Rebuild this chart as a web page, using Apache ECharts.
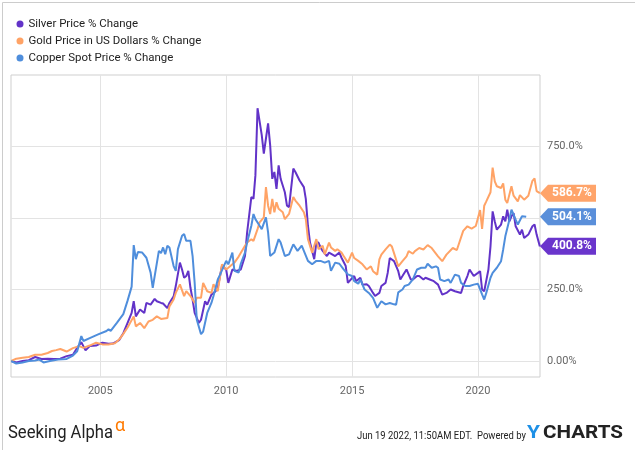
<!DOCTYPE html>
<html>
<head>
<meta charset="utf-8">
<script src="https://cdn.jsdelivr.net/npm/echarts@6/dist/echarts.min.js"></script>
<style>
html,body{margin:0;padding:0;background:#fff;}
#chart{width:635px;height:450px;}
</style>
</head>
<body>
<div id="chart"></div>
<script>
// ---- data (percent change since June 2001) ----
const seriesNames = ['Silver Price % Change', 'Gold Price in US Dollars % Change', 'Copper Spot Price % Change'];
const xStart = '2001-06-16';
const xEnd = '2022-06-19';
const yearTicks = ['2005-01-01', '2010-01-01', '2015-01-01', '2020-01-01'];
const yTicks = [0, 250, 500, 750];
const endValues = [400.8, 586.7, 504.1];

const silver = [
['2001-06-19',0],['2001-09',-5],['2001-12',0],['2002-03',3],['2002-06',14],['2002-09',7],['2002-12',8],
['2003-03',7],['2003-06',8],['2003-09',17],['2003-12',22],['2004-02',46],['2004-04',66],['2004-06',37],
['2004-08',52],['2004-11',54],['2005-02',64],['2005-05',60],['2005-07',61],['2005-10',73],['2005-12',97],
['2006-02',133],['2006-04',168],['2006-05',209],['2006-06',156],['2006-08',180],['2006-10',168],['2006-11',203],
['2007-01',197],['2007-03',217],['2007-04',209],['2007-06',203],['2007-07',201],['2007-09',185],['2007-10',203],
['2007-12',226],['2008-01',262],['2008-03',344],['2008-04',320],['2008-05',291],['2008-06',297],['2008-07',315],
['2008-08',256],['2008-09',215],['2008-10',168],['2008-12',133],['2009-01',144],['2009-03',209],['2009-04',197],
['2009-06',232],['2009-08',244],['2009-09',256],['2009-11',332],['2010-01',320],['2010-02',273],['2010-04',320],
['2010-06',315],['2010-08',320],['2010-10',367],['2010-11',450],['2011-01',573],['2011-02',567],['2011-03',649],
['2011-04',884],['2011-06',790],['2011-07',725],['2011-08',778],['2011-09',831],['2011-10',755],['2011-11',637],
['2011-12',661],['2012-01',602],['2012-02',684],['2012-03',637],['2012-05',590],['2012-06',543],['2012-07',538],
['2012-09',673],['2012-10',661],['2012-12',631],['2013-02',608],['2013-03',567],['2013-04',473],['2013-05',414],
['2013-07',356],['2013-08',414],['2013-09',414],['2013-10',397],['2013-11',385],['2014-01',367],['2014-02',379],
['2014-03',385],['2014-05',367],['2014-07',379],['2014-08',361],['2014-10',332],['2014-11',273],['2015-01',290],
['2015-02',297],['2015-03',279],['2015-05',291],['2015-06',267],['2015-08',268],['2015-09',262],['2015-11',238],
['2015-12',227],['2016-02',238],['2016-03',262],['2016-05',273],['2016-06',308],['2016-07',360],['2016-09',349],
['2016-11',314],['2016-12',285],['2017-01',297],['2017-03',320],['2017-05',285],['2017-06',285],['2017-08',297],
['2017-09',297],['2017-11',285],['2017-12',291],['2018-02',285],['2018-04',279],['2018-06',267],['2018-08',232],
['2018-10',238],['2018-12',250],['2019-02',244],['2019-03',250],['2019-05',238],['2019-06',262],['2019-08',297],
['2019-09',320],['2019-11',297],['2020-01',308],['2020-02',314],['2020-03',250],['2020-04',244],['2020-06',320],
['2020-07',401],['2020-08',523],['2020-09',488],['2020-10',459],['2020-12',477],['2021-01',506],['2021-02',488],
['2021-03',529],['2021-04',488],['2021-05',506],['2021-06',517],['2021-07',471],['2021-09',442],['2021-10',459],
['2021-11',430],['2022-01',442],['2022-03',471],['2022-04',477],['2022-05',442],['2022-06-17',400.8]
];

const gold = [
['2001-06-19',0],['2001-09',8],['2001-12',11],['2002-03',14],['2002-06',22],['2002-09',22],['2002-12',28],
['2003-02',35],['2003-04',38],['2003-06',42],['2003-09',33],['2003-12',45],['2004-03',52],['2004-05',46],
['2004-08',54],['2004-11',64],['2005-02',58],['2005-05',58],['2005-08',62],['2005-10',75],['2005-12',95],
['2006-02',117],['2006-03',121],['2006-05',156],['2006-06',121],['2006-08',133],['2006-10',115],['2006-12',138],
['2007-02',144],['2007-04',156],['2007-06',147],['2007-09',150],['2007-10',191],['2007-12',215],['2008-01',238],
['2008-03',268],['2008-05',227],['2008-06',244],['2008-08',227],['2008-10',203],['2008-11',221],['2009-01',221],
['2009-02',273],['2009-04',244],['2009-06',238],['2009-07',268],['2009-09',244],['2009-11',338],['2010-01',320],
['2010-02',326],['2010-05',344],['2010-07',365],['2010-09',391],['2010-10',403],['2010-11',414],['2011-01',426],
['2011-02',420],['2011-04',461],['2011-05',485],['2011-07',502],['2011-08',608],['2011-09',543],['2011-10',514],
['2011-11',567],['2011-12',520],['2012-01',555],['2012-02',532],['2012-04',520],['2012-05',496],['2012-07',514],
['2012-09',573],['2012-10',561],['2012-12',543],['2013-02',520],['2013-03',496],['2013-04',426],['2013-06',379],
['2013-07',403],['2013-08',426],['2013-09',391],['2013-11',403],['2013-12',373],['2014-02',414],['2014-03',397],
['2014-05',385],['2014-06',391],['2014-08',379],['2014-09',367],['2014-11',344],['2015-01',379],['2015-02',360],
['2015-04',350],['2015-06',338],['2015-08',320],['2015-10',331],['2015-11',314],['2016-01',302],['2016-02',355],
['2016-03',372],['2016-05',390],['2016-07',407],['2016-08',400],['2016-11',331],['2017-01',349],['2017-03',366],
['2017-04',384],['2017-06',375],['2017-07',384],['2017-09',395],['2017-11',390],['2018-01',405],['2018-03',395],
['2018-06',366],['2018-08',349],['2018-10',372],['2019-01',395],['2019-03',388],['2019-06',455],['2019-08',471],
['2019-10',463],['2019-12',472],['2020-02',528],['2020-03',462],['2020-04',543],['2020-05',558],['2020-07',590],
['2020-08',676],['2020-09',628],['2020-10',611],['2020-12',605],['2021-01',621],['2021-02',564],['2021-03',552],
['2021-05',611],['2021-06',578],['2021-08',558],['2021-09',580],['2021-11',564],['2022-01',578],['2022-03',630],
['2022-04',638],['2022-05',594],['2022-06-17',586.7]
];

const copper = [
['2001-06-19',0],['2001-09',-9],['2001-12',-5],['2002-03',0],['2002-06',2],['2002-08',5],['2002-10',-5],
['2003-01',0],['2003-05',5],['2003-09',7],['2003-12',19],['2004-02',34],['2004-04',87],['2004-05',70],
['2004-08',80],['2004-12',93],['2005-04',105],['2005-05',111],['2005-06',105],['2005-09',134],['2005-12',164],
['2006-02',211],['2006-04',260],['2006-05',405],['2006-06',356],['2006-07',381],['2006-09',379],['2006-11',361],
['2007-01',309],['2007-02',256],['2007-03',262],['2007-05',385],['2007-06',377],['2007-07',397],['2007-08',373],
['2007-09',403],['2007-10',397],['2007-12',332],['2008-01',315],['2008-02',391],['2008-04',438],['2008-05',444],
['2008-06',420],['2008-08',420],['2008-09',367],['2008-10',273],['2008-11',144],['2009-01',94],['2009-02',103],
['2009-04',168],['2009-06',203],['2009-07',227],['2009-09',285],['2009-10',300],['2010-01',350],['2010-02',338],
['2010-04',379],['2010-05',315],['2010-07',309],['2010-08',340],['2010-10',379],['2010-11',414],['2011-01',473],
['2011-02',514],['2011-03',496],['2011-05',473],['2011-06',461],['2011-08',502],['2011-09',450],['2011-10',367],
['2011-12',379],['2012-02',426],['2012-03',414],['2012-05',367],['2012-07',373],['2012-09',408],['2012-11',385],
['2013-01',403],['2013-02',385],['2013-04',350],['2013-06',338],['2013-08',350],['2013-10',350],['2013-12',344],
['2014-02',350],['2014-03',315],['2014-05',344],['2014-07',340],['2014-09',320],['2014-11',303],['2015-01',297],
['2015-02',279],['2015-04',270],['2015-05',285],['2015-07',250],['2015-09',238],['2015-11',221],['2016-01',186],
['2016-03',209],['2016-05',198],['2016-07',203],['2016-09',198],['2016-10',197],['2016-11',240],['2017-01',250],
['2017-02',262],['2017-04',267],['2017-06',285],['2017-08',320],['2017-10',326],['2017-12',326],['2018-01',340],
['2018-03',326],['2018-05',331],['2018-06',326],['2018-07',285],['2018-09',279],['2018-11',285],['2018-12',273],
['2019-02',302],['2019-04',297],['2019-05',273],['2019-07',262],['2019-09',262],['2019-11',267],['2020-01',270],
['2020-03',233],['2020-04',215],['2020-05',238],['2020-07',291],['2020-08',308],['2020-10',326],['2020-12',349],
['2021-01',390],['2021-02',436],['2021-04',494],['2021-05',529],['2021-07',494],['2021-08',477],['2021-10',506],
['2021-12',504.1]
];

const colors = ['#6233C8', '#FFA366', '#4F8EDC'];
const tagColors = ['#6A35CC', '#FFA46A', '#5A8FDA'];

// ---- helpers ----
const FONT = 'Roboto, "Noto Sans", sans-serif';
const ts = s => echarts.number.parseDate(s).getTime();
const mctx = document.createElement('canvas').getContext('2d');
function textWidth(text, size, weight) {
  mctx.font = (weight || 'normal') + ' ' + size + 'px ' + FONT;
  return mctx.measureText(text).width;
}
function fitScale(text, size, weight, target) { return target / textWidth(text, size, weight); }

// legend font size chosen so the longest entry spans ~173px as in the reference
const legendFont = 13 * 173 / textWidth(seriesNames[1], 13);

// ---- chart ----
const chart = echarts.init(document.getElementById('chart'), null, {renderer: 'canvas'});

function tagMark(i) {
  return {
    symbol: 'path://M0,8.5 L8,0 L56,0 L56,17 L8,17 Z',
    symbolSize: [56, 17],
    symbolOffset: [28, 0],
    silent: true,
    itemStyle: {color: tagColors[i]},
    label: {
      show: true, position: 'inside', offset: [4, 0],
      color: '#fff', fontSize: 12, fontWeight: 'bold', fontFamily: FONT,
      formatter: p => p.value.toFixed(1) + '%'
    },
    data: [{coord: [ts(xEnd), endValues[i]], value: endValues[i]}]
  };
}

const dataSets = [silver, gold, copper];
const series = dataSets.map((d, i) => ({
  name: seriesNames[i],
  type: 'line',
  data: d.map(p => [ts(p[0]), p[1]]),
  showSymbol: false,
  symbol: 'none',
  lineStyle: {width: 2, color: colors[i]},
  itemStyle: {color: colors[i]},
  z: 2 + i,
  markPoint: tagMark(i)
}));

const dateText = 'Jun 19 2022, 11:50AM EDT.  Powered by';

chart.setOption({
  animation: false,
  backgroundColor: '#fff',
  color: colors,
  grid: {left: 11, right: 95, top: 75, bottom: 73, show: true, borderColor: '#cfcfcf', borderWidth: 1, containLabel: false},
  legend: {
    orient: 'vertical', left: 16.5, top: 17.5, padding: 0, itemWidth: 7, itemHeight: 7, itemGap: 4,
    icon: 'circle', data: seriesNames, selectedMode: false,
    textStyle: {fontSize: legendFont, color: '#222', fontFamily: FONT, lineHeight: 13}
  },
  xAxis: {
    type: 'value',
    min: ts(xStart), max: ts(xEnd),
    axisLine: {show: false},
    axisTick: {show: false, customValues: yearTicks.map(ts)},
    axisLabel: {
      customValues: yearTicks.map(ts), color: '#666', fontSize: 11, fontFamily: FONT, margin: 9,
      formatter: v => String(new Date(v).getFullYear())
    },
    splitLine: {show: true, lineStyle: {color: '#e3e3e3', width: 1}}
  },
  yAxis: {
    type: 'value', position: 'right', min: -56, max: 1000,
    axisLine: {show: false},
    axisTick: {show: false, customValues: yTicks},
    axisLabel: {
      customValues: yTicks, color: '#666', fontSize: 11, fontFamily: FONT, margin: 7,
      formatter: v => v === 0 ? '0.00%' : v.toFixed(1) + '%'
    },
    splitLine: {show: true, lineStyle: {color: '#e3e3e3', width: 1}}
  },
  series: series,
  graphic: [
    {type: 'rect', left: 0, top: 0, z: 100, silent: true,
     shape: {x: 0.5, y: 0.5, width: 634, height: 449}, style: {fill: 'none', stroke: '#cccccc', lineWidth: 1}},
    {type: 'text', x: 8, y: 424, z: 100, silent: true,
     scaleX: fitScale('Seeking Alpha', 18, 'normal', 105),
     style: {text: 'Seeking Alpha', fontSize: 18, fontFamily: FONT, fill: '#222'}},
    {type: 'text', x: 115, y: 417, z: 100, silent: true,
     style: {text: 'α', fontSize: 18, fontFamily: FONT, fill: '#ff7a00'}},
    {type: 'text', x: 357, y: 431, z: 100, silent: true,
     scaleX: fitScale(dateText, 10.5, 'normal', 169),
     style: {text: dateText, fontSize: 10.5, fontFamily: FONT, fill: '#222'}},
    {type: 'text', x: 527, y: 424, z: 100, silent: true,
     scaleX: fitScale('Y', 18, 'bold', 13),
     style: {text: 'Y', fontSize: 18, fontWeight: 'bold', fontFamily: FONT, fill: '#1E90E6'}},
    {type: 'text', x: 543, y: 424, z: 100, silent: true,
     scaleX: fitScale('CHARTS', 18, 'bold', 80),
     style: {text: 'CHARTS', fontSize: 18, fontWeight: 'bold', fontFamily: FONT, fill: '#222'}}
  ]
});
</script>
</body>
</html>
